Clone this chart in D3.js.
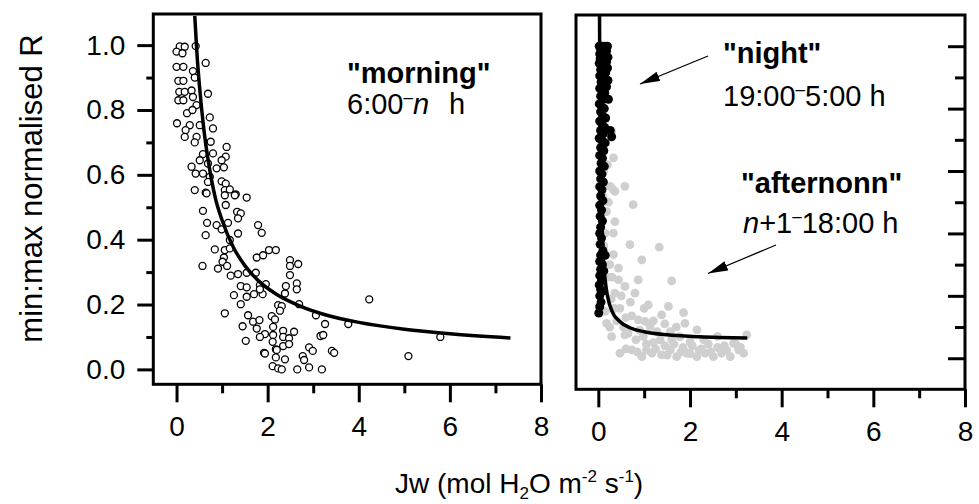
<!DOCTYPE html>
<html>
<head>
<meta charset="utf-8">
<title>Jw vs normalised R</title>
<script src="https://d3js.org/d3.v7.min.js"></script>
<style>
  body { margin: 0; background: #fff; }
  svg { display: block; font-family: "Liberation Sans", Arial, sans-serif; }
  .tick line { stroke: #000; stroke-width: 3; }
  .tick text { font-size: 28px; fill: #000; }
</style>
</head>
<body>
<div id="chart"></div>
<script>
// ---- data: [Jw, normalised R] ----
var morningPts = [
  [0.07,0.996],[0.18,0.995],[0.0,0.98],[0.13,0.975],[0.42,0.997],[0.64,0.945],[0.0,0.933],[0.15,0.933],
  [0.36,0.92],[0.04,0.89],[0.15,0.89],[0.4,0.9],[0.69,0.85],[0.06,0.856],[0.18,0.856],[0.33,0.86],
  [0.04,0.83],[0.15,0.83],[0.36,0.84],[0.44,0.815],[0.23,0.79],[0.35,0.8],[0.73,0.777],[0.01,0.759],
  [0.29,0.753],[0.51,0.753],[0.8,0.743],[0.2,0.738],[0.18,0.717],[0.44,0.717],[0.4,0.7],[0.75,0.702],
  [1.1,0.686],[0.58,0.664],[0.8,0.666],[1.08,0.656],[0.33,0.625],[0.51,0.645],[0.69,0.635],[0.99,0.645],
  [0.88,0.62],[1.04,0.623],[0.42,0.604],[0.58,0.604],[0.73,0.594],[0.69,0.578],[0.99,0.58],[1.08,0.573],
  [0.4,0.553],[0.64,0.545],[1.06,0.553],[1.17,0.555],[1.3,0.54],[1.54,0.53],[0.66,0.543],[1.06,0.537],
  [1.28,0.537],[1.08,0.507],[0.58,0.489],[1.33,0.486],[1.41,0.481],[1.35,0.466],[0.67,0.452],[0.88,0.445],
  [1.13,0.452],[0.99,0.432],[1.79,0.445],[1.87,0.421],[0.64,0.414],[1.35,0.419],[1.17,0.399],[0.84,0.37],
  [1.06,0.368],[1.17,0.373],[2.03,0.368],[2.18,0.368],[1.76,0.345],[1.9,0.352],[1.04,0.345],[1.01,0.332],
  [2.49,0.337],[2.67,0.325],[2.49,0.319],[0.57,0.319],[0.91,0.311],[1.11,0.319],[1.35,0.294],[1.19,0.289],
  [1.54,0.298],[1.74,0.298],[2.49,0.291],[1.41,0.257],[1.54,0.253],[1.83,0.26],[1.96,0.263],[2.4,0.257],
  [2.64,0.265],[2.64,0.247],[1.26,0.229],[1.54,0.224],[1.7,0.232],[1.89,0.232],[1.83,0.247],[2.38,0.234],
  [1.41,0.201],[2.23,0.198],[2.31,0.195],[2.27,0.181],[2.69,0.201],[4.23,0.216],[1.06,0.173],[1.57,0.167],
  [2.09,0.164],[2.16,0.154],[3.06,0.167],[1.45,0.133],[1.68,0.147],[1.82,0.152],[2.12,0.131],[3.26,0.14],
  [3.77,0.14],[1.76,0.126],[2.34,0.119],[2.58,0.116],[1.94,0.109],[1.83,0.1],[2.12,0.106],[2.34,0.1],
  [2.47,0.096],[3.16,0.103],[3.22,0.106],[1.52,0.088],[2.11,0.085],[2.34,0.072],[2.47,0.078],[2.91,0.068],
  [2.99,0.057],[3.41,0.057],[3.46,0.051],[1.92,0.051],[2.18,0.062],[2.77,0.041],[2.18,0.037],[2.38,0.031],
  [2.8,0.029],[2.11,0.01],[2.23,0.003],[2.31,0.0],[2.65,0.0],[2.91,0.006],[3.19,0.0],[5.09,0.041],
  [5.79,0.1],[1.94,0.049],[2.2,0.06]
];

var afternoonPts = [
  [0.07,0.69],[0.29,0.727],[0.33,0.642],[0.26,0.551],[0.58,0.551],[0.36,0.535],[0.33,0.54],[0.76,0.492],
  [0.18,0.47],[0.36,0.438],[0.15,0.401],[0.33,0.401],[0.69,0.364],[1.33,0.356],[0.95,0.315],[0.33,0.332],
  [0.44,0.289],[0.87,0.251],[1.6,0.248],[0.44,0.251],[0.58,0.23],[0.8,0.209],[0.36,0.209],[1.09,0.171],
  [1.53,0.166],[0.47,0.16],[0.73,0.136],[1.38,0.139],[1.86,0.146],[0.87,0.123],[1.02,0.118],[1.89,0.112],
  [0.18,0.112],[1.13,0.101],[1.28,0.085],[1.57,0.085],[2.15,0.091],[0.29,0.069],[0.58,0.075],[0.98,0.069],
  [1.35,0.059],[1.78,0.069],[2.0,0.053],[2.95,0.048],[3.24,0.075],[0.47,0.016],[0.73,0.027],[0.95,0.005],
  [1.17,0.016],[1.38,0.011],[1.57,0.027],[1.71,0.005],[1.93,0.016],[2.15,0.005],[2.33,0.016],[2.51,0.005],
  [2.69,0.016],[2.88,0.005],[3.06,0.027],[3.17,0.016],[0.12,0.6],[0.2,0.62],[0.1,0.52],[0.22,0.5],
  [0.12,0.36],[0.25,0.3],[0.2,0.26],[0.28,0.19],[0.15,0.15],[0.4,0.12],[0.55,0.1],[0.65,0.08],
  [0.82,0.06],[1.05,0.045],[1.2,0.05],[1.45,0.04],[1.65,0.045],[1.85,0.035],[2.05,0.04],[2.25,0.03],
  [2.4,0.045],[2.6,0.035],[2.75,0.04],[3.0,0.045],[0.6,0.03],[0.85,0.02],[1.05,0.025],[1.25,0.03],
  [1.5,0.01],[1.8,0.02],[2.0,0.015],[2.2,0.025],[2.45,0.02],[2.65,0.03],[2.8,0.025],[3.1,0.035],
  [1.0,0.16],[1.2,0.12],[1.45,0.11],[1.7,0.1],[0.7,0.18],[0.6,0.13],[2.3,0.06],[2.6,0.07],
  [1.6,0.06],[0.9,0.09],[0.5,0.2],[0.3,0.26],[0.35,0.16],[0.25,0.1]
];

var nightPts = [
  [0.02,1.0],[0.08,1.0],[0.14,1.0],[0.2,1.0],[0.05,0.99],[0.12,0.99],[0.18,0.985],[0.03,0.975],
  [0.09,0.975],[0.16,0.97],[0.21,0.965],[0.04,0.96],[0.11,0.955],[0.18,0.95],[0.02,0.945],[0.07,0.94],
  [0.14,0.935],[0.2,0.93],[0.05,0.925],[0.1,0.92],[0.16,0.915],[0.03,0.905],[0.09,0.9],[0.14,0.895],
  [0.21,0.89],[0.06,0.885],[0.12,0.875],[0.18,0.87],[0.03,0.865],[0.08,0.855],[0.14,0.85],[0.05,0.84],
  [0.11,0.83],[0.22,0.83],[0.02,0.815],[0.08,0.805],[0.13,0.8],[0.05,0.79],[0.1,0.775],[0.16,0.77],
  [0.03,0.76],[0.08,0.75],[0.26,0.73],[0.14,0.74],[0.05,0.73],[0.29,0.71],[0.11,0.72],[0.02,0.705],
  [0.08,0.7],[0.15,0.69],[0.05,0.675],[0.12,0.665],[0.03,0.65],[0.09,0.64],[0.06,0.625],[0.13,0.615],
  [0.03,0.6],[0.08,0.59],[0.05,0.575],[0.11,0.565],[0.03,0.55],[0.08,0.54],[0.05,0.52],[0.1,0.505],
  [0.03,0.49],[0.07,0.475],[0.04,0.455],[0.09,0.44],[0.05,0.42],[0.03,0.4],[0.07,0.385],[0.04,0.365],
  [0.1,0.345],[0.05,0.33],[0.15,0.33],[0.03,0.31],[0.09,0.3],[0.05,0.285],[0.12,0.28],[0.03,0.265],
  [0.07,0.25],[0.02,0.235],[0.05,0.22],[0.1,0.215],[0.03,0.2],[0.06,0.18],[0.03,0.165],[0.01,0.145]
];

// fitted curves, sampled along the drawn lines
var morningFit = [
  [0.4,1.09],[0.45,0.97],[0.5,0.88],[0.6,0.74],[0.7,0.64],[0.85,0.53],[1.0,0.46],[1.25,0.376],
  [1.5,0.32],[1.8,0.273],[2.2,0.231],[2.7,0.196],[3.3,0.167],[4.0,0.145],[5.0,0.124],[6.0,0.11],[7.33,0.097]
];
var nightFit = [
  [0.026,1.1],[0.03,0.99],[0.04,0.76],[0.05,0.62],[0.07,0.48],[0.1,0.35],[0.15,0.25],[0.2,0.2],
  [0.3,0.15],[0.45,0.12],[0.7,0.097],[1.0,0.085],[1.5,0.075],[2.2,0.069],[3.25,0.065]
];

var xTicks = [0, 2, 4, 6, 8];
var xMinor = [1, 3, 5, 7];
var yTicks = [0, 0.2, 0.4, 0.6, 0.8, 1.0];
var yMinor = [0.1, 0.3, 0.5, 0.7, 0.9];

var svg = d3.select("#chart").append("svg")
    .attr("width", 979)
    .attr("height", 504);

// panel boxes
var left = {x0: 153.3, x1: 541, y0: 14, y1: 384.3},
    right = {x0: 576, x1: 965, y0: 15, y1: 389.3};

var xL = d3.scaleLinear().domain([-0.51, 8]).range([left.x0, left.x1]);
var yL = d3.scaleLinear().domain([-0.046, 1.096]).range([left.y1, left.y0]);
var xR = d3.scaleLinear().domain([-0.487, 8]).range([right.x0, right.x1]);
var yR = d3.scaleLinear().domain([-0.0995, 1.1]).range([right.y1, right.y0]);

var defs = svg.append("defs");
defs.append("clipPath").attr("id", "clipL").append("rect")
    .attr("x", left.x0).attr("y", left.y0)
    .attr("width", left.x1 - left.x0).attr("height", left.y1 - left.y0);
defs.append("clipPath").attr("id", "clipR").append("rect")
    .attr("x", right.x0).attr("y", right.y0)
    .attr("width", right.x1 - right.x0).attr("height", right.y1 - right.y0);
defs.append("marker")
    .attr("id", "arrow")
    .attr("viewBox", "0 0 20 10")
    .attr("refX", 20).attr("refY", 5)
    .attr("markerWidth", 20).attr("markerHeight", 10)
    .attr("markerUnits", "userSpaceOnUse")
    .attr("orient", "auto")
  .append("path")
    .attr("d", "M0,0 L20,5 L0,10 Z")
    .attr("fill", "#000");

// ---- axes ----
function bottomAxis(x, y, ticks, size, labels) {
  var g = svg.append("g")
    .attr("transform", "translate(0," + y + ")")
    .call(d3.axisBottom(x).tickValues(ticks).tickSize(size)
      .tickPadding(14).tickFormat(labels ? d3.format("d") : ""));
  g.select(".domain").remove();
  return g;
}
bottomAxis(xL, left.y1, xTicks, 18, true);
bottomAxis(xL, left.y1, xMinor, 9, false);
bottomAxis(xR, right.y1, xTicks, 18, true);
bottomAxis(xR, right.y1, xMinor, 9, false);

var gy = svg.append("g")
  .attr("transform", "translate(" + left.x0 + ",0)")
  .call(d3.axisLeft(yL).tickValues(yTicks).tickSize(16).tickPadding(12).tickFormat(d3.format(".1f")));
gy.select(".domain").remove();
var gym = svg.append("g")
  .attr("transform", "translate(" + left.x0 + ",0)")
  .call(d3.axisLeft(yL).tickValues(yMinor).tickSize(7).tickFormat(""));
gym.select(".domain").remove();

// right panel: ticks inside on the right edge, no labels
var gyr = svg.append("g")
  .attr("transform", "translate(" + right.x1 + ",0)")
  .call(d3.axisLeft(yR).tickValues(yTicks).tickSize(17).tickFormat(""));
gyr.select(".domain").remove();
var gyrm = svg.append("g")
  .attr("transform", "translate(" + right.x1 + ",0)")
  .call(d3.axisLeft(yR).tickValues(yMinor).tickSize(10).tickFormat(""));
gyrm.select(".domain").remove();

// ---- left panel: morning ----
var pL = svg.append("g").attr("clip-path", "url(#clipL)");
pL.selectAll("circle")
  .data(morningPts)
  .enter().append("circle")
    .attr("cx", function(d) { return xL(d[0]); })
    .attr("cy", function(d) { return yL(d[1]); })
    .attr("r", 3.5)
    .attr("fill", "#fff")
    .attr("stroke", "#000")
    .attr("stroke-width", 1.3);

var lineL = d3.line()
  .x(function(d) { return xL(d[0]); })
  .y(function(d) { return yL(d[1]); })
  .curve(d3.curveMonotoneX);
pL.append("path")
  .datum(morningFit)
  .attr("d", lineL)
  .attr("fill", "none")
  .attr("stroke", "#000")
  .attr("stroke-width", 3.5);

// ---- right panel: afternoon + night ----
var pR = svg.append("g").attr("clip-path", "url(#clipR)");
pR.selectAll(".aft")
  .data(afternoonPts)
  .enter().append("circle")
    .attr("class", "aft")
    .attr("cx", function(d) { return xR(d[0]); })
    .attr("cy", function(d) { return yR(d[1]); })
    .attr("r", 4.4)
    .attr("fill", "#cfcfcf");
pR.selectAll(".night")
  .data(nightPts)
  .enter().append("circle")
    .attr("class", "night")
    .attr("cx", function(d) { return xR(d[0]); })
    .attr("cy", function(d) { return yR(d[1]); })
    .attr("r", 4.5)
    .attr("fill", "#000");

var lineR = d3.line()
  .x(function(d) { return xR(d[0]); })
  .y(function(d) { return yR(d[1]); })
  .curve(d3.curveMonotoneX);
pR.append("path")
  .datum(nightFit)
  .attr("d", lineR)
  .attr("fill", "none")
  .attr("stroke", "#000")
  .attr("stroke-width", 3.5);

// frames
[left, right].forEach(function(b) {
  svg.append("rect")
    .attr("x", b.x0).attr("y", b.y0)
    .attr("width", b.x1 - b.x0).attr("height", b.y1 - b.y0)
    .attr("fill", "none")
    .attr("stroke", "#000")
    .attr("stroke-width", 3);
});

// ---- annotations ----
function label(x, y, parts, bold) {
  var t = svg.append("text")
    .attr("x", x).attr("y", y)
    .attr("font-size", 29)
    .attr("font-weight", bold ? "bold" : "normal");
  parts.forEach(function(p) {
    var s = t.append("tspan").text(p.t);
    if (p.italic) s.attr("font-style", "italic");
    if (p.dash) s.attr("font-size", 17).attr("dy", -11);
    if (p.back) s.attr("dy", 11);
    if (p.dx) s.attr("dx", p.dx);
  });
  return t;
}
label(347, 83, [{t: '"morning"'}], true);
label(347, 114, [{t: "6:00"}, {t: "\u2013", dash: true}, {t: "n", italic: true, back: true}, {t: "h", dx: 20}]);
label(723, 63, [{t: '"night"'}], true);
label(723, 106, [{t: "19:00"}, {t: "\u2013", dash: true}, {t: "5:00 h", back: true}]);
label(741, 193, [{t: '"afternonn"'}], true);
label(743, 233, [{t: "n", italic: true}, {t: "+1"}, {t: "\u2013", dash: true}, {t: "18:00 h", back: true}]);

svg.append("line")
  .attr("x1", 708).attr("y1", 56).attr("x2", 640).attr("y2", 84)
  .attr("stroke", "#000").attr("stroke-width", 1.3)
  .attr("marker-end", "url(#arrow)");
svg.append("line")
  .attr("x1", 776).attr("y1", 245).attr("x2", 708).attr("y2", 273.5)
  .attr("stroke", "#000").attr("stroke-width", 1.3)
  .attr("marker-end", "url(#arrow)");

// ---- axis titles ----
svg.append("text")
  .attr("transform", "translate(42,188.5) rotate(-90)")
  .attr("text-anchor", "middle")
  .attr("font-size", 31)
  .text("min:max normalised R");

var xt = svg.append("text")
  .attr("x", 395).attr("y", 493)
  .attr("font-size", 28);
xt.append("tspan").text("Jw (mol H");
xt.append("tspan").attr("font-size", 17).attr("dy", 6).text("2");
xt.append("tspan").attr("dy", -6).text("O m");
xt.append("tspan").attr("font-size", 17).attr("dy", -11).text("-2");
xt.append("tspan").attr("dy", 11).text(" s");
xt.append("tspan").attr("font-size", 17).attr("dy", -11).text("-1");
xt.append("tspan").attr("dy", 11).text(")");
</script>
</body>
</html>
